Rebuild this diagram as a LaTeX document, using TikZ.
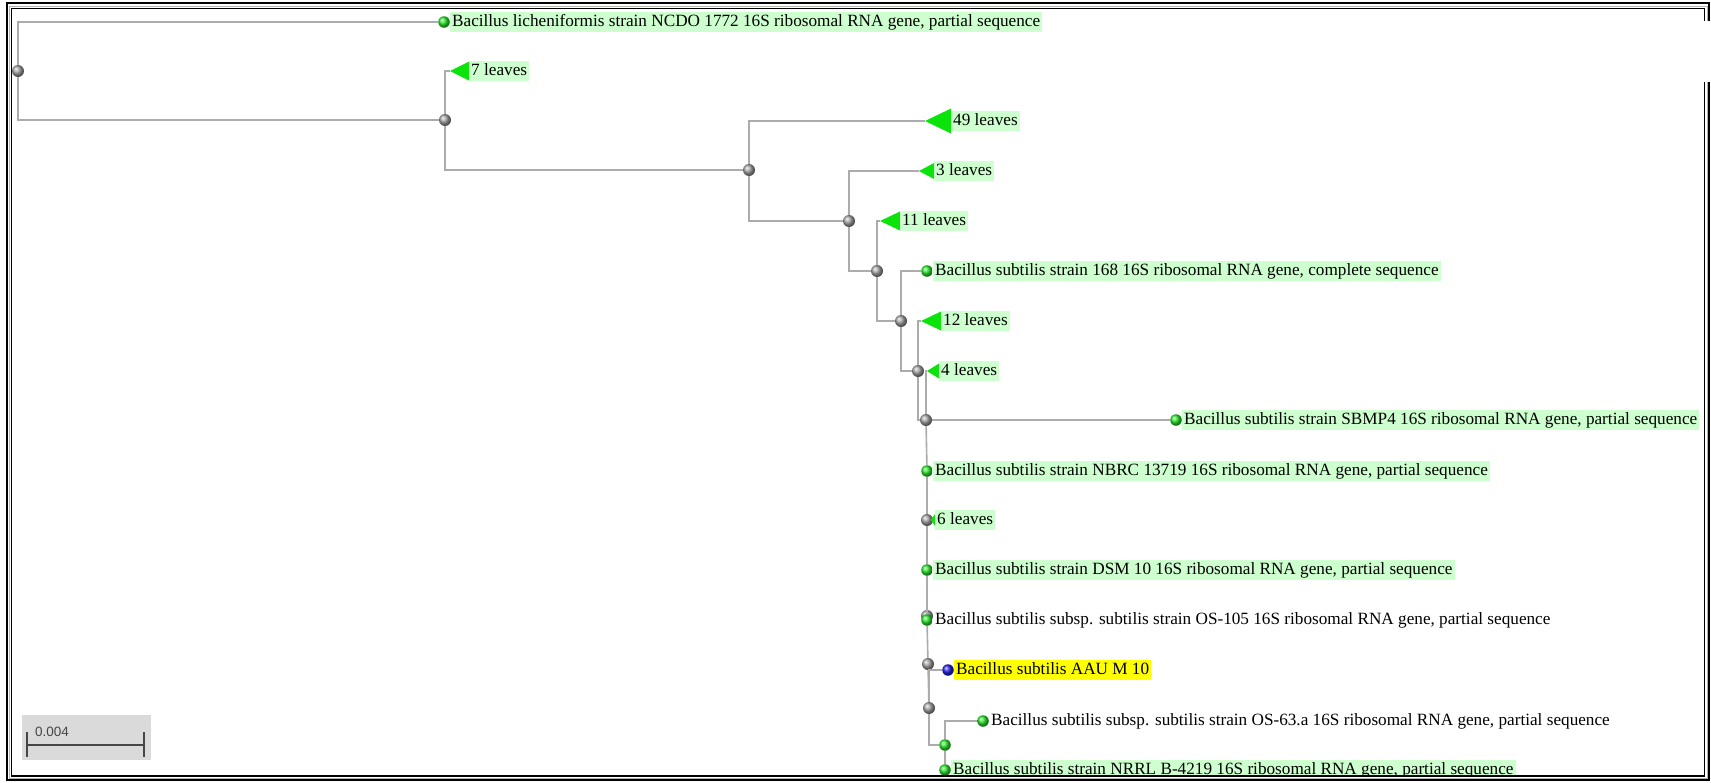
\documentclass[tikz,border=0pt]{standalone}
\usepackage{fontspec}
\setmainfont{Liberation Serif}
\newfontfamily\barfont{Liberation Sans}
\usepackage{tikz}
\usetikzlibrary{positioning, calc}
\definecolor{branchgray}{RGB}{172,172,172}
\definecolor{leafgreen}{RGB}{40,235,40}
\definecolor{cladegreen}{RGB}{10,228,10}
\definecolor{labelgreen}{RGB}{206,255,206}
\definecolor{queryblue}{RGB}{30,30,235}
\definecolor{queryyellow}{RGB}{255,255,0}
\definecolor{bargray}{RGB}{218,218,218}
\definecolor{bardark}{RGB}{70,70,70}
\tikzset{
  branch/.style={draw=branchgray, line width=1.6pt},
  inode/.style={
    circle, inner sep=0pt, minimum size=12pt,
    shading=ball, ball color=gray!70
  },
  leaf/.style={
    circle, inner sep=0pt, minimum size=11.5pt,
    shading=ball, ball color=leafgreen
  },
  query/.style={leaf, ball color=queryblue},
  taxon/.style={
    anchor=west, fill=labelgreen, inner xsep=2pt, inner ysep=1pt,
    font=\fontsize{17.2}{20}\selectfont, text height=13.5pt, text depth=4pt
  },
  plaintaxon/.style={taxon, fill=none},
  querytaxon/.style={taxon, fill=queryyellow},
  clade/.style={fill=cladegreen},
  frameline/.style={draw=black, line width=1.8pt}
}
% collapsed subtree: tip, width, height
\newcommand{\clade}[3]{\fill[clade] (#1) -- ++(#2,#3/2) -- ++(0,-#3) -- cycle;}

\begin{document}
\begin{tikzpicture}[x=1pt, y=-1pt]
  \useasboundingbox[fill=white] (0,0) rectangle (1711,782);

  \begin{scope}
  \clip (11,8) rectangle (1704,776);

  \node[inode] (root) at (18,71) {};
  \node[leaf] (lich) at (444,22) {};
  \node[taxon, right=0pt of lich] (lichtx)
    {Bacillus licheniformis strain NCDO 1772 16S ribosomal RNA gene, partial sequence};
  \node[inode] (n1) at (445,120) {};
  \draw[branch] (root) |- (lich);
  \draw[branch] (root) |- (n1);

  \coordinate (c7) at (450,71);
  \clade{c7}{19}{19}
  \node[taxon] (t7) at (469,71) {7 leaves};
  \node[inode] (n2) at (749,170) {};
  \draw[branch] (n1) |- (c7);
  \draw[branch] (n1) |- (n2);

  \coordinate (c49) at (925,121);
  \clade{c49}{26}{25}
  \node[taxon] (t49) at (951,121) {49 leaves};
  \node[inode] (n3) at (849,221) {};
  \draw[branch] (n2) |- (c49);
  \draw[branch] (n2) |- (n3);

  \coordinate (c3) at (919,171);
  \clade{c3}{15}{16}
  \node[taxon] (t3) at (934,171) {3 leaves};
  \node[inode] (n4) at (877,271) {};
  \draw[branch] (n3) |- (c3);
  \draw[branch] (n3) |- (n4);

  \coordinate (c11) at (880,221);
  \clade{c11}{20}{19}
  \node[taxon] (t11) at (900,221) {11 leaves};
  \node[inode] (n5) at (901,321) {};
  \draw[branch] (n4) |- (c11);
  \draw[branch] (n4) |- (n5);

  \node[leaf] (s168) at (927,271) {};
  \node[taxon, right=0pt of s168] (s168tx)
    {Bacillus subtilis strain 168 16S ribosomal RNA gene, complete sequence};
  \node[inode] (n6) at (918,371) {};
  \draw[branch] (n5) |- (s168);
  \draw[branch] (n5) |- (n6);

  \coordinate (c12) at (921,321);
  \clade{c12}{20}{19}
  \node[taxon] (t12) at (941,321) {12 leaves};
  \node[inode] (n7) at (926,420) {};
  \draw[branch] (n6) |- (c12);
  \draw[branch] (n6) |- (n7);

  \coordinate (c4) at (927,371);
  \clade{c4}{12}{15}
  \node[taxon] (t4) at (939,371) {4 leaves};
  \node[leaf] (sbmp) at (1176,420) {};
  \node[taxon, right=0pt of sbmp] (sbmptx)
    {Bacillus subtilis strain SBMP4 16S ribosomal RNA gene, partial sequence};
  \draw[branch] (n7) |- (c4);
  \draw[branch] (n7) -- (sbmp);

  \node[leaf] (nbrc) at (927,471) {};
  \node[taxon, right=0pt of nbrc] (nbrctx)
    {Bacillus subtilis strain NBRC 13719 16S ribosomal RNA gene, partial sequence};
  \node[inode] (n8) at (927,520) {};
  \coordinate (c6) at (931,520);
  \clade{c6}{4}{12}
  \node[taxon] (t6) at (935,520) {6 leaves};
  \node[leaf] (dsm) at (927,570) {};
  \node[taxon, right=0pt of dsm] (dsmtx)
    {Bacillus subtilis strain DSM 10 16S ribosomal RNA gene, partial sequence};
  \node[inode] (n9) at (927,616) {};
  \node[leaf] (os105) at (927,620) {};
  \node[plaintaxon, right=0pt of os105] (os105tx)
    {Bacillus subtilis subsp. subtilis strain OS-105 16S ribosomal RNA gene, partial sequence};
  \node[inode] (n10) at (928,664) {};
  \foreach \a/\b in {n7/nbrc, nbrc/n8, n8/dsm, dsm/os105, os105/n10}
    \draw[branch] (\a) -- (\b);

  \node[inode] (n11) at (929,708) {};
  \node[query] (aau) at (948,670) {};
  \node[querytaxon, right=0pt of aau] (aautx) {Bacillus subtilis AAU M 10};
  \node[leaf] (n12) at (945,745) {};
  \draw[branch] (n10) -- (n11);
  \draw[branch] (n11) |- (aau);
  \draw[branch] (n11) |- (n12);

  \node[leaf] (os63) at (983,721) {};
  \node[plaintaxon, right=0pt of os63] (os63tx)
    {Bacillus subtilis subsp. subtilis strain OS-63.a 16S ribosomal RNA gene, partial sequence};
  \node[leaf] (nrrl) at (945,770) {};
  \node[taxon, right=0pt of nrrl] (nrrltx)
    {Bacillus subtilis strain NRRL B-4219 16S ribosomal RNA gene, partial sequence};
  \draw[branch] (n12) |- (os63);
  \draw[branch] (n12) -- (nrrl);

  % scale bar
  \fill[bargray] (22,715) rectangle (151,760);
  \coordinate (sb1) at (27,745);
  \coordinate (sb2) at (144,745);
  \draw[bardark, line width=2.4pt] (sb1) -- (sb2);
  \draw[bardark, line width=2.4pt] ($(sb1)+(0,-13)$) -- ($(sb1)+(0,12)$);
  \draw[bardark, line width=2.4pt] ($(sb2)+(0,-13)$) -- ($(sb2)+(0,12)$);
  \node[anchor=base west, inner sep=0pt, text=bardark,
        font=\barfont\fontsize{13.5}{15}\selectfont] (sbtx) at (35,736) {0.004};
  \end{scope}

  % frame
  \draw[frameline] (7,3) rectangle (1709,780);
  \draw[gray!60, line width=1pt] (9,6) rectangle (1707,778);
  \draw[draw=black, line width=1.4pt] (11.5,8.5) rectangle (1704.5,776);
  \fill[white] (1703,21) rectangle (1711,82);
\end{tikzpicture}
\end{document}
